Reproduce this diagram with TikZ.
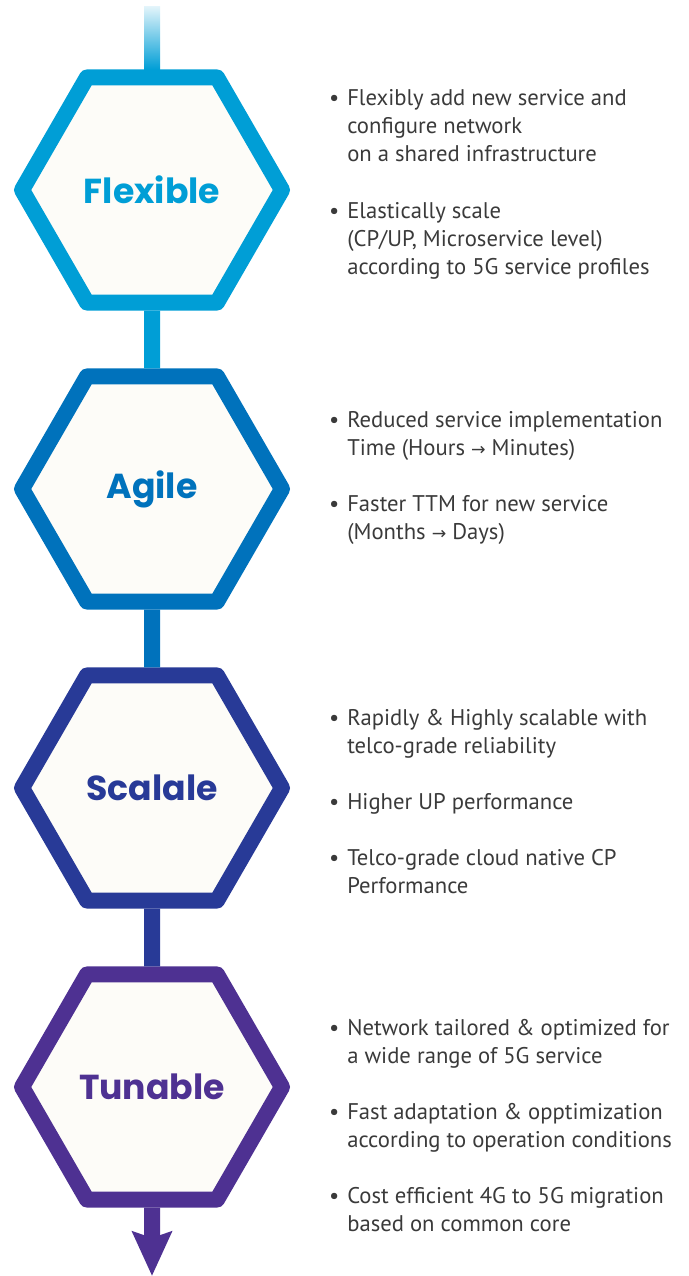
\documentclass[tikz,border=0pt]{standalone}
\usepackage{fontspec}
\setmainfont{PT Sans}
\newfontfamily\hexfont{Poppins}
\newfontfamily\symfont{DejaVu Sans}
\usetikzlibrary{arrows.meta,shapes.geometric,calc}
\definecolor{flex}{HTML}{009ED6}
\definecolor{agil}{HTML}{0072BC}
\definecolor{scal}{HTML}{283A97}
\definecolor{tune}{HTML}{4E3192}
\definecolor{paper}{HTML}{FDFCF8}
\definecolor{txt}{HTML}{3A3A3A}
\newcommand{\bul}{\llap{\textbullet\hspace{6pt}}}
\newcommand{\goesto}{{\symfont\fontsize{13}{21}\selectfont →}}
\begin{document}
\begin{tikzpicture}[x=0.75pt,y=-0.75pt]
\tikzset{hexa/.style={draw=#1, text=#1, fill=paper, regular polygon, regular polygon sides=6,
  minimum size=195pt, inner sep=0pt, line width=12pt, line join=round,
  font=\hexfont\bfseries\fontsize{26}{30}\selectfont}}
\tikzset{link/.style={draw=#1, line width=12pt}}
\tikzset{point/.style={anchor=base west, align=left, inner sep=0pt, text=txt,
  font=\fontsize{17}{21}\selectfont}}
\useasboundingbox (0,0) rectangle (688,1276);
\node[hexa=flex] (H1) at (152,190) {Flexible};
\node[hexa=agil] (H2) at (152,489) {Agile};
\node[hexa=scal] (H3) at (152,788) {Scalale};
\node[hexa=tune] (H4) at (152,1087) {Tunable};
\coordinate (start) at (152,7);
\coordinate (end) at (152,1276);
\shade[top color=flex!12, bottom color=flex] ($(start)+(-8,0)$) rectangle ($(H1.north)+(8,0)$);
\draw[link=flex] (H1) -- (H2);
\draw[link=agil] (H2) -- (H3);
\draw[link=scal] (H3) -- (H4);
\draw[link=tune, -{Stealth[length=33pt, width=29pt, inset=4.5pt]}] (H4) -- (end);
\node[point] (P1) at (347,162) {\bul Flexibly add new service and\\configure network\\on a shared infrastructure};
\node[point] (P2) at (347,275) {\bul Elastically scale\\(CP/UP, Microservice level)\\according to 5G service profiles};
\node[point] (P3) at (347,455) {\bul Reduced service implementation\\Time (Hours \goesto{} Minutes)};
\node[point] (P4) at (347,539) {\bul Faster TTM for new service\\(Months \goesto{} Days)};
\node[point] (P5) at (347,753) {\bul Rapidly \& Highly scalable with\\telco-grade reliability};
\node[point] (P6) at (347,809) {\bul Higher UP performance};
\node[point] (P7) at (347,893) {\bul Telco-grade cloud native CP\\Performance};
\node[point] (P8) at (347,1063) {\bul Network tailored \& optimized for\\a wide range of 5G service};
\node[point] (P9) at (347,1147) {\bul Fast adaptation \& opptimization\\according to operation conditions};
\node[point] (P10) at (347,1231) {\bul Cost efficient 4G to 5G migration\\based on common core};
\end{tikzpicture}
\end{document}
